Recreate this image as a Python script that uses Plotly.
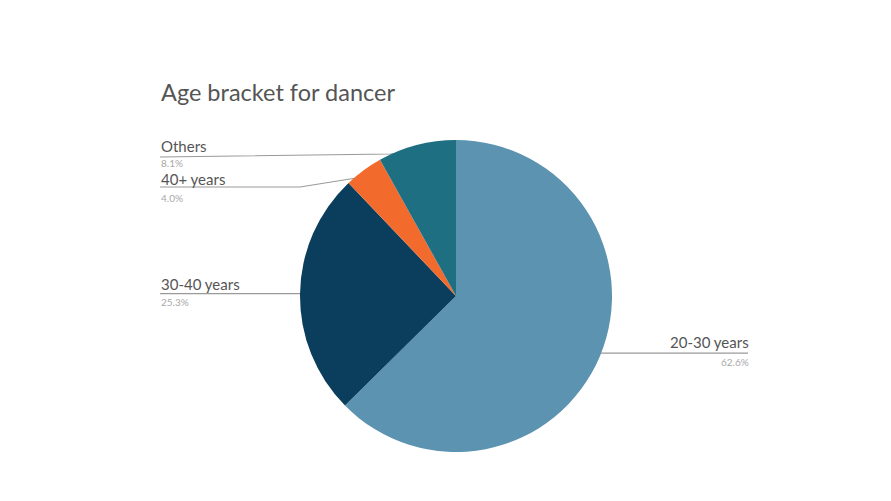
import math
import plotly.graph_objects as go

# Данные
labels = ["20-30 years", "30-40 years", "40+ years", "Others"]
values = [62.6, 25.3, 4.0, 8.1]
pct_text = ["62.6%", "25.3%", "4.0%", "8.1%"]
colors = ["#5b93b1", "#0b3d5c", "#f26b2d", "#1e6f82"]

W, H = 891, 501
OFF = 8  # отступ body страницы
cx, cy, r = 456, 296, 156

fig = go.Figure()

fig.add_trace(go.Pie(
    labels=labels,
    values=values,
    sort=False,
    direction="clockwise",
    rotation=0,
    marker=dict(colors=colors, line=dict(width=0)),
    textinfo="none",
    hoverinfo="label+percent",
    showlegend=False,
    domain=dict(x=[(cx - OFF - r) / W, (cx - OFF + r) / W],
                y=[1 - (cy - OFF + r) / H, 1 - (cy - OFF - r) / H]),
))

# Точки-якоря на секторах (по середине угла сектора)
total = sum(values)
anchors = []
cum = 0
for v in values:
    mid = (cum + v / 2) / total * 2 * math.pi
    anchors.append((cx + 0.95 * r * math.sin(mid), cy - 0.95 * r * math.cos(mid)))
    cum += v

# Выноски: куда идёт линия и где стоит подпись
leader_ends = [
    [(748, anchors[0][1])],
    [(160, anchors[1][1])],
    [(350, 179), (300, 187), (160, 187)],
    [(390, 154), (160, 157)],
]
label_pos = [(750, 342, "right"), (160, 284, "left"), (160, 178.5, "left"), (160, 146, "left")]
pct_pos = [(750, 362, "right"), (160, 302, "left"), (160, 198, "left"), (160, 163, "left")]

for i in range(len(labels)):
    pts = [anchors[i]] + leader_ends[i]
    fig.add_trace(go.Scatter(
        x=[p[0] for p in pts], y=[p[1] for p in pts],
        mode="lines", line=dict(color="#9a9a9a", width=1.2),
        hoverinfo="skip", showlegend=False, xaxis="x", yaxis="y",
    ))
    fig.add_trace(go.Scatter(
        x=[anchors[i][0]], y=[anchors[i][1]],
        mode="markers", marker=dict(color="#a9a9a9", size=4),
        hoverinfo="skip", showlegend=False, xaxis="x", yaxis="y",
    ))
    lx, ly, al = label_pos[i]
    fig.add_annotation(x=lx, y=ly, xref="x", yref="y", text=labels[i],
                       showarrow=False, xanchor=al, yanchor="middle", borderpad=0,
                       font=dict(size=15, color="#555555", family="Lato"))
    px, py, al = pct_pos[i]
    fig.add_annotation(x=px, y=py, xref="x", yref="y", text=pct_text[i],
                       showarrow=False, xanchor=al, yanchor="middle", borderpad=0,
                       font=dict(size=10, color="#a8a8a8", family="Lato"))

fig.add_annotation(x=159, y=92, xref="x", yref="y", text="Age bracket for dancer",
                   showarrow=False, xanchor="left", yanchor="middle",
                   font=dict(size=23.5, color="#555555", family="Lato"))

fig.update_layout(
    width=W, height=H,
    margin=dict(l=0, r=0, t=0, b=0),
    paper_bgcolor="white", plot_bgcolor="rgba(0,0,0,0)",
    xaxis=dict(range=[OFF, W + OFF], visible=False, fixedrange=True),
    yaxis=dict(range=[H + OFF, OFF], visible=False, fixedrange=True),
)

fig.write_html("out.html")
